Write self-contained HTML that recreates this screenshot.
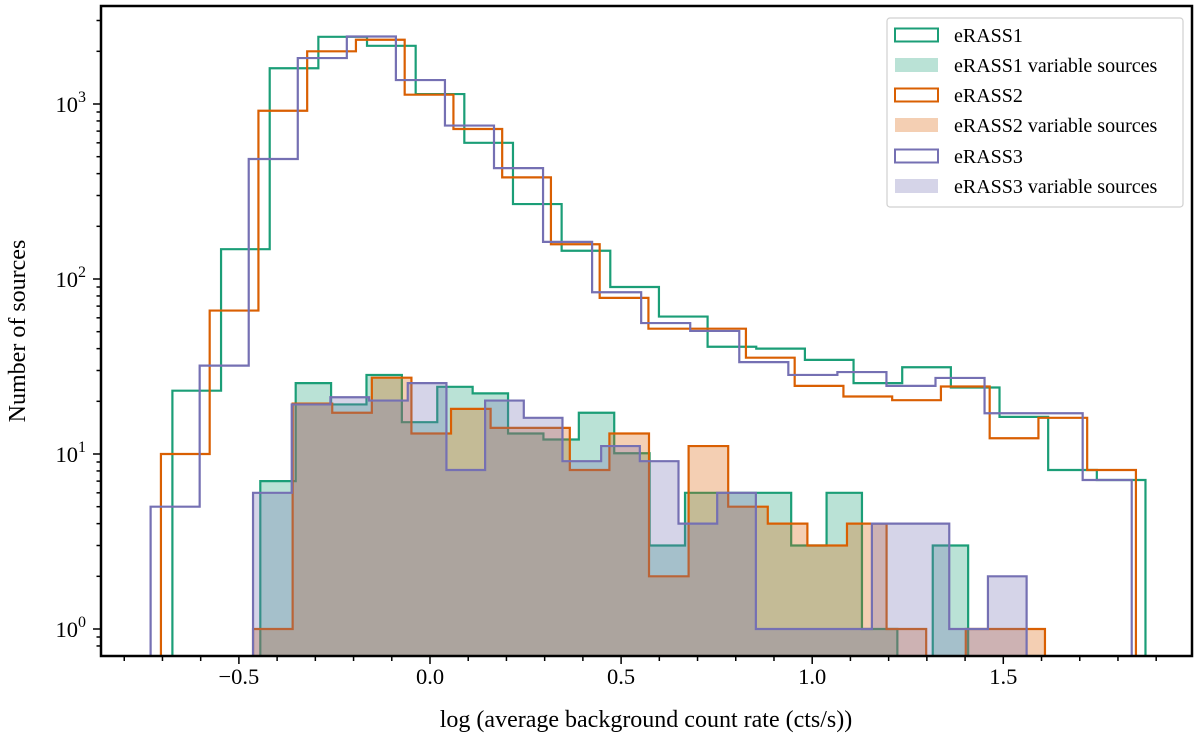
<!DOCTYPE html>
<html><head><meta charset="utf-8">
<style>
html,body{margin:0;padding:0;background:#fff;}
svg{display:block;font-family:"Liberation Serif",serif;}
</style></head>
<body>
<svg id="chart" width="1200" height="745" viewBox="0 0 1200 745" xmlns="http://www.w3.org/2000/svg">
<defs><clipPath id="plotclip"><rect x="101" y="6" width="1091" height="650"/></clipPath></defs>
<g id="plot" clip-path="url(#plotclip)"></g>
<rect x="101" y="6" width="1091" height="650" fill="none" stroke="#000" stroke-width="2.5"/>
<g id="axes"></g>
<text x="646" y="727" font-size="24" text-anchor="middle">log (average background count rate (cts/s))</text>
<text transform="translate(25,331) rotate(-90)" font-size="24" text-anchor="middle">Number of sources</text>
<g id="legend"></g>
</svg>
<script>
// ---- data ----
const colors = ["#1b9e77", "#d95f02", "#7570b3"];
const seriesNames = ["eRASS1", "eRASS2", "eRASS3"];
const totalRange1 = [-0.674, 1.872];
const totalRange2 = [-0.704, 1.847];
const totalRange3 = [-0.731, 1.836];
const totalCounts1 = [23,148,1600,2420,2150,1140,600,268,145,90,61,41,40,34.5,25.4,31.3,24,16.3,8.1,7.1];
const totalCounts2 = [10,66,915,2000,2330,1130,720,381,158,78,52,52,35.5,24.5,21.3,20.3,24.3,12.3,16.1,8.1];
const totalCounts3 = [5,32,485,1830,2430,1370,753,430,163,84,56,50.5,33.5,28.3,29.4,24.5,27.2,17.1,17.1,7.1];
const varRange1 = [-0.444, 1.408];
const varRange2 = [-0.463, 1.609];
const varRange3 = [-0.463, 1.561];
const varCounts1 = [7,25.4,19.2,28.3,15.2,24.2,22.2,13.1,12.1,17.2,10.1,3,6,6,6,3,6,1,0,3];
const varCounts2 = [1,19.4,17.2,27.3,13.1,18.1,14.1,14.1,8.1,13.1,2,11.1,5,4,3,4,1,0,1,1];
const varCounts3 = [6,19.2,21.1,20.2,25.4,8.1,20.2,16.1,9.1,11.1,9.1,4,6,1,1,1,4,4,1,2];
const xTickValues = [-0.5, 0.0, 0.5, 1.0, 1.5];
const xTickLabels = ["\u22120.5", "0.0", "0.5", "1.0", "1.5"];
const yTickExps = [0, 1, 2, 3];

// ---- scales ----
const X0 = 430, XS = 382.2, Y0 = 629, YS = 175, BOTTOM = 656;
function xs(v){ return X0 + XS * v; }
function ys(n){ return Y0 - YS * Math.log10(n); }

const NS = "http://www.w3.org/2000/svg";
const plot = document.getElementById("plot");
const axes = document.getElementById("axes");
const legend = document.getElementById("legend");
function mk(tag, attrs, parent){
  const e = document.createElementNS(NS, tag);
  for (const k in attrs) e.setAttribute(k, attrs[k]);
  parent.appendChild(e); return e;
}
function edgesOf(range, n){
  const w = (range[1] - range[0]) / n; const e = [];
  for (let i = 0; i <= n; i++) e.push(range[0] + i * w);
  return e;
}
function stepPath(range, counts){
  const e = edgesOf(range, counts.length);
  let d = "M" + xs(e[0]) + "," + (BOTTOM + 5);
  for (let i = 0; i < counts.length; i++){
    const y = counts[i] > 0 ? ys(counts[i]) : BOTTOM + 5;
    d += " L" + xs(e[i]) + "," + y + " L" + xs(e[i+1]) + "," + y;
  }
  d += " L" + xs(e[counts.length]) + "," + (BOTTOM + 5);
  return d;
}

const totals = [[totalRange1, totalCounts1], [totalRange2, totalCounts2], [totalRange3, totalCounts3]];
const vars = [[varRange1, varCounts1], [varRange2, varCounts2], [varRange3, varCounts3]];

for (let s = 0; s < 3; s++){
  const tp = mk("path", {d: stepPath(totals[s][0], totals[s][1]), fill: "none", stroke: colors[s], "stroke-width": 2.2}, plot);
  
  
  const vp = mk("path", {d: stepPath(vars[s][0], vars[s][1]) + " Z", fill: colors[s], "fill-opacity": 0.3, stroke: colors[s], "stroke-width": 2.2}, plot);
  
  
}

for (let v = -0.8; v <= 1.951; v += 0.1){
  const vr = Math.round(v * 10) / 10;
  const major = Math.abs(vr * 2 - Math.round(vr * 2)) < 1e-6;
  const t = mk("line", {x1: xs(vr), x2: xs(vr), y1: BOTTOM, y2: BOTTOM + (major ? 8 : 5), stroke: "#000", "stroke-width": 1.5}, axes);
  
  
}
xTickValues.forEach((v, i) => {
  const t = mk("text", {x: xs(v), y: 684, "font-size": 22.5, "text-anchor": "middle"}, axes);
  t.textContent = xTickLabels[i];
  
  
});
for (let p = -1; p <= 3; p++){
  for (let m = 1; m <= 9; m++){
    const n = m * Math.pow(10, p);
    const y = ys(n);
    if (y < 6 || y > BOTTOM) continue;
    const t = mk("line", {x1: 101, x2: 101 - (m === 1 ? 8 : 4.5), y1: y, y2: y, stroke: "#000", "stroke-width": 1.5}, axes);
    
    
  }
}
yTickExps.forEach(p => {
  const t = mk("text", {x: 86, y: ys(Math.pow(10, p)) + 8, "font-size": 22.5, "text-anchor": "end"}, axes);
  t.textContent = "10";
  const sup = mk("tspan", {dy: -10, "font-size": 16}, t);
  sup.textContent = String(p);
  
  
});

const lb = mk("rect", {x: 887, y: 18, width: 296, height: 189, rx: 3, fill: "#fff", "fill-opacity": 0.85, stroke: "#d0d0d0", "stroke-width": 1.2}, legend);


const rowY = [35, 65, 95, 125, 156, 186];
for (let s = 0; s < 3; s++){
  const y1 = rowY[2*s], y2 = rowY[2*s+1];
  const p1 = mk("rect", {x: 895, y: y1 - 6.5, width: 43, height: 13, fill: "none", stroke: colors[s], "stroke-width": 2}, legend);
  
  
  const t1 = mk("text", {x: 954, y: y1 + 7, "font-size": 20}, legend);
  t1.textContent = seriesNames[s];
  
  
  const p2 = mk("rect", {x: 895, y: y2 - 7, width: 43, height: 14, fill: colors[s], "fill-opacity": 0.3}, legend);
  
  
  const t2 = mk("text", {x: 954, y: y2 + 7, "font-size": 20}, legend);
  t2.textContent = seriesNames[s] + " variable sources";
  
  
}
</script>
</body></html>
